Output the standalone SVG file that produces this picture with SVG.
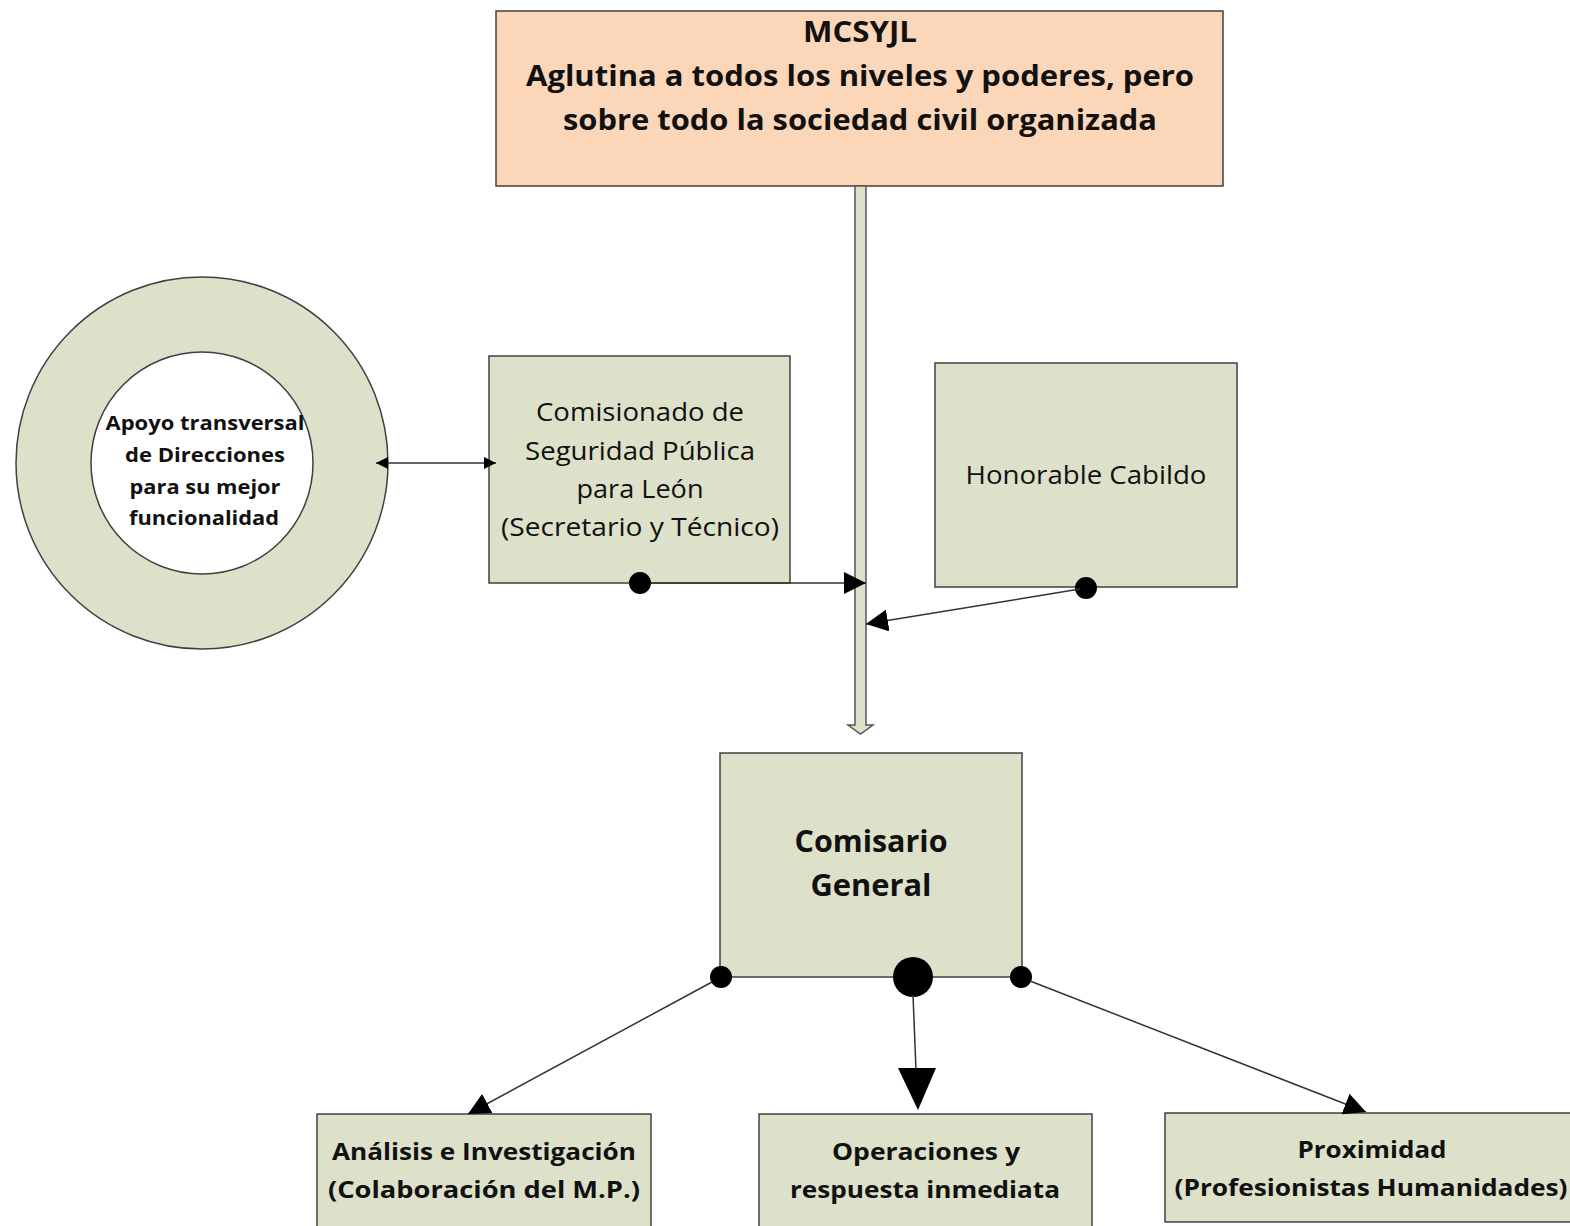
<svg xmlns="http://www.w3.org/2000/svg" width="1570" height="1226" viewBox="0 0 1570 1226">
<style>
.box{fill:#DDE1CA;stroke:#404040;stroke-width:1.5}
.peach{fill:#FBD6B9;stroke:#404040;stroke-width:1.5}
.t{font-family:"Open Sans","Noto Sans","Liberation Sans",sans-serif;fill:#111;text-anchor:middle}
.b{font-weight:bold}
.ln{stroke:#333;stroke-width:1.5;fill:none}
.dot{fill:#000}
</style>
<defs>
<marker id="ah" viewBox="0 0 10 10" refX="10" refY="5" markerWidth="22" markerHeight="22" markerUnits="userSpaceOnUse" orient="auto"><path d="M0,0 L10,5 L0,10 Z" fill="#000"/></marker>
<marker id="ahs" viewBox="0 0 10 10" refX="10" refY="5" markerWidth="12" markerHeight="12" markerUnits="userSpaceOnUse" orient="auto-start-reverse"><path d="M0,0 L10,5 L0,10 Z" fill="#000"/></marker>
</defs>

<g id="mcsyjl">
<rect class="peach" x="496" y="11" width="727" height="175"/>
<text class="t b" x="860" y="42" font-size="28" textLength="114" lengthAdjust="spacingAndGlyphs">MCSYJL</text>
<text class="t b" x="860" y="86" font-size="28" textLength="668" lengthAdjust="spacingAndGlyphs">Aglutina a todos los niveles y poderes, pero</text>
<text class="t b" x="860" y="130" font-size="28" textLength="594" lengthAdjust="spacingAndGlyphs">sobre todo la sociedad civil organizada</text>
</g>

<g id="apoyo">
<circle cx="202" cy="463" r="186" fill="#DDE1CA" stroke="#404040" stroke-width="1.5"/>
<circle cx="202" cy="463" r="111" fill="#fff" stroke="#404040" stroke-width="1.5"/>
<text class="t b" x="205" y="430" font-size="20" textLength="199" lengthAdjust="spacingAndGlyphs">Apoyo transversal</text>
<text class="t b" x="205" y="462" font-size="20" textLength="160" lengthAdjust="spacingAndGlyphs">de Direcciones</text>
<text class="t b" x="205" y="494" font-size="20" textLength="151" lengthAdjust="spacingAndGlyphs">para su mejor</text>
<text class="t b" x="204" y="525" font-size="20" textLength="150" lengthAdjust="spacingAndGlyphs">funcionalidad</text>
</g>

<g id="comisionado">
<rect class="box" x="489" y="356" width="301" height="227"/>
<text class="t" x="640" y="421" font-size="26" textLength="208" lengthAdjust="spacingAndGlyphs">Comisionado de</text>
<text class="t" x="640" y="460" font-size="26" textLength="230" lengthAdjust="spacingAndGlyphs">Seguridad Pública</text>
<text class="t" x="640" y="498" font-size="26" textLength="127" lengthAdjust="spacingAndGlyphs">para León</text>
<text class="t" x="640" y="536" font-size="26" textLength="278" lengthAdjust="spacingAndGlyphs">(Secretario y Técnico)</text>
<circle class="dot" cx="640" cy="583" r="11"/>
</g>

<g id="cabildo">
<rect class="box" x="935" y="363" width="302" height="224"/>
<text class="t" x="1086" y="484" font-size="26" textLength="241" lengthAdjust="spacingAndGlyphs">Honorable Cabildo</text>
<circle class="dot" cx="1086" cy="588" r="11"/>
</g>

<g id="comisario">
<rect class="box" x="720" y="753" width="302" height="224"/>
<text class="t b" x="871" y="852" font-size="30" textLength="153" lengthAdjust="spacingAndGlyphs">Comisario</text>
<text class="t b" x="871" y="896" font-size="30" textLength="121" lengthAdjust="spacingAndGlyphs">General</text>
<circle class="dot" cx="721" cy="977" r="11"/>
<circle class="dot" cx="913" cy="977" r="20"/>
<circle class="dot" cx="1021" cy="977" r="11"/>
</g>

<g id="analisis">
<rect class="box" x="317" y="1114" width="334" height="120"/>
<text class="t b" x="484" y="1160" font-size="24" textLength="304" lengthAdjust="spacingAndGlyphs">Análisis e Investigación</text>
<text class="t b" x="484" y="1198" font-size="24" textLength="312" lengthAdjust="spacingAndGlyphs">(Colaboración del M.P.)</text>
</g>

<g id="operaciones">
<rect class="box" x="759" y="1114" width="333" height="120"/>
<text class="t b" x="926" y="1160" font-size="24" textLength="188" lengthAdjust="spacingAndGlyphs">Operaciones y</text>
<text class="t b" x="925" y="1198" font-size="24" textLength="270" lengthAdjust="spacingAndGlyphs">respuesta inmediata</text>
</g>

<g id="proximidad">
<rect class="box" x="1165" y="1113" width="420" height="109"/>
<text class="t b" x="1372" y="1158" font-size="24" textLength="149" lengthAdjust="spacingAndGlyphs">Proximidad</text>
<text class="t b" x="1371" y="1196" font-size="24" textLength="393" lengthAdjust="spacingAndGlyphs">(Profesionistas Humanidades)</text>
</g>

<g id="connectors">
<path d="M855,186 L866,186 L866,725 L873,725 L860.5,734 L848,725 L855,725 Z" fill="#DDE1CA" stroke="#555" stroke-width="1.5"/>
<line class="ln" x1="376" y1="463" x2="496" y2="463" marker-start="url(#ahs)" marker-end="url(#ahs)"/>
<line class="ln" x1="651" y1="583" x2="866" y2="583" marker-end="url(#ah)"/>
<line class="ln" x1="1080" y1="589" x2="866" y2="624" marker-end="url(#ah)"/>
<line class="ln" x1="712" y1="982" x2="468" y2="1114" marker-end="url(#ah)"/>
<path d="M913,995 L916,1070" class="ln"/>
<path d="M898,1068 L936,1068 L918,1110 Z" fill="#000"/>
<line class="ln" x1="1030" y1="981" x2="1366" y2="1112" marker-end="url(#ah)"/>
</g>
</svg>
